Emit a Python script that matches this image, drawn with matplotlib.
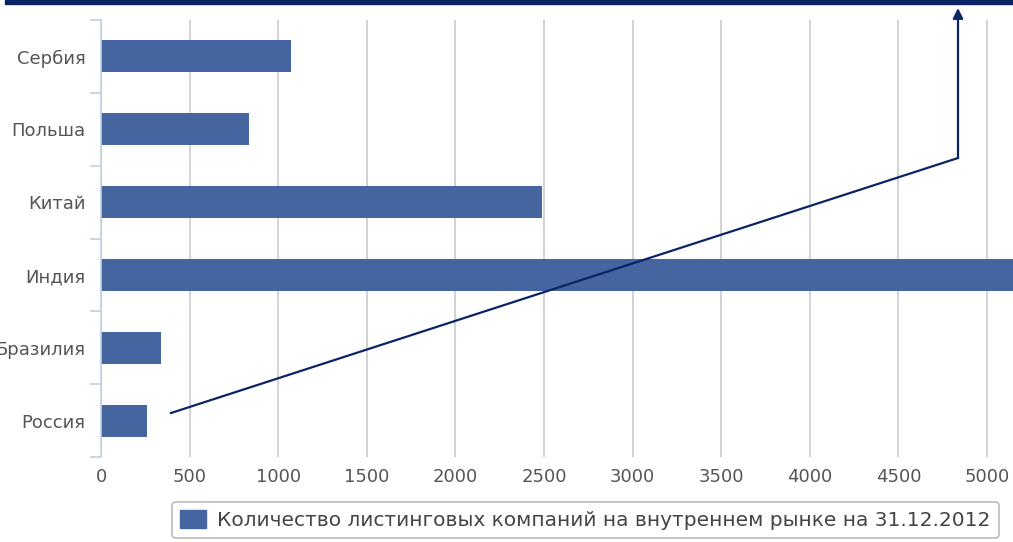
import matplotlib
matplotlib.use("Agg")
import matplotlib.pyplot as plt
from matplotlib.patches import Rectangle

countries = ["Россия", "Бразилия", "Индия", "Китай", "Польша", "Сербия"]
listed = [262, 340, 5191, 2490, 838, 1075]
xticks = [0, 500, 1000, 1500, 2000, 2500, 3000, 3500, 4000, 4500, 5000]
legend_label = "Количество листинговых компаний на внутреннем рынке на 31.12.2012"

bar_color = "#4565a1"
navy = "#0a2466"
plt.rcParams['font.family'] = ['DejaVu Sans']

fig = plt.figure(figsize=(10.13, 5.42), dpi=100)
W, H = 1013, 542
ax = fig.add_axes([101 / W, 1 - 457 / H, 1 - 101 / W, (457 - 20) / H])

ypos = list(range(len(countries)))
ax.barh(ypos, listed, height=0.44, color=bar_color, zorder=3)
ax.set_xlim(0, 5147)
ax.set_ylim(-0.5, len(countries) - 0.5)
ax.set_xticks(xticks)
ax.set_xticklabels([str(v) for v in xticks], fontsize=13, color="#555555")
ax.set_yticks(ypos)
ax.set_yticklabels(countries, fontsize=13, color="#555555")
ax.set_yticks([y - 0.5 for y in range(len(countries) + 1)], minor=True)
ax.tick_params(axis="y", which="major", length=0, pad=11)
ax.tick_params(axis="y", which="minor", length=8, color="#c0d0e0", width=1.2)
ax.tick_params(axis="x", length=0, pad=8)
ax.grid(axis="x", color="#d2d2d2", linewidth=1.4, zorder=0)
for s in ["top", "right", "bottom"]:
    ax.spines[s].set_visible(False)
ax.spines["left"].set_color("#c0d0e0")
ax.spines["left"].set_linewidth(1.2)
ax.spines["left"].set_zorder(4)

# top navy band
fig.patches.append(Rectangle((5 / W, 1 - 4 / H), 1, 4 / H, transform=fig.transFigure,
                             color=navy, zorder=10))

# arrow annotation
fig.add_artist(plt.Line2D([171 / W, 958 / W], [1 - 413 / H, 1 - 158 / H],
                          transform=fig.transFigure, color=navy, linewidth=1.6, zorder=10))
fig.add_artist(matplotlib.patches.FancyArrowPatch((958 / W, 1 - 158 / H), (958 / W, 1 - 8 / H),
                                                  transform=fig.transFigure, arrowstyle="-|>,head_length=6,head_width=3",
                                                  color=navy, linewidth=1.6, zorder=10,
                                                  shrinkA=0, shrinkB=0))

leg = fig.legend([Rectangle((0, 0), 1, 1, color=bar_color)], [legend_label],
                 loc="upper left", bbox_to_anchor=(172 / W, 1 - 502 / H),
                 fontsize=14.5, frameon=True, fancybox=True, edgecolor="#aaaaaa",
                 handlelength=1.3, handleheight=1.0, labelcolor="#444444",
                 borderpad=0.4, handletextpad=0.55, borderaxespad=0)
leg.get_frame().set_linewidth(1.2)

fig.savefig("out.png", dpi=100)
